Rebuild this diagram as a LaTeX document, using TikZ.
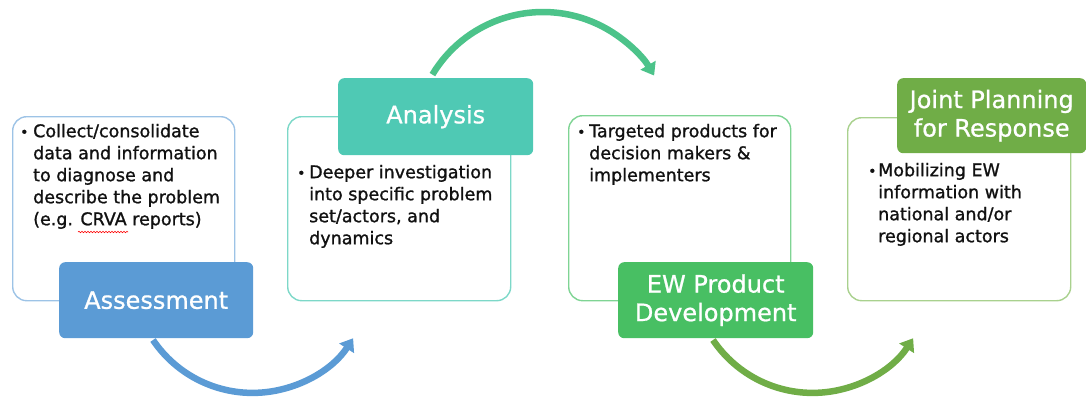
\documentclass[tikz,border=0pt]{standalone}
\usepackage{fontspec}
\setmainfont{DejaVu Sans}
\newfontfamily\bodyfont[FakeBold=1.2]{DejaVu Sans}
\newfontfamily\headfont[FakeBold=0.8]{DejaVu Sans}
\usetikzlibrary{arrows.meta,decorations.pathmorphing}
\definecolor{cAssess}{HTML}{5B9BD5}
\definecolor{cAnalysis}{HTML}{4FC9B4}
\definecolor{cProduct}{HTML}{48BF63}
\definecolor{cJoint}{HTML}{70AD47}
\definecolor{cTopArrow}{HTML}{4CC38A}
\definecolor{oOne}{HTML}{9DC3E6}
\definecolor{oTwo}{HTML}{7DD8C8}
\definecolor{oThree}{HTML}{7FD494}
\definecolor{oFour}{HTML}{A9D18E}
\definecolor{txt}{HTML}{111111}
\begin{document}
\begin{tikzpicture}[x=1pt,y=1pt,
  outline/.style={draw, line width=1.4pt, rounded corners=14pt, anchor=north west, inner sep=0pt},
  header/.style={rounded corners=6pt, text=white, anchor=north west, inner sep=0pt,
    font=\headfont\fontsize{24}{28.5}\selectfont, align=center},
  bodytext/.style={anchor=north west, inner sep=0pt, align=left, text=txt,
    font=\bodyfont\fontsize{17.5}{22}\selectfont},
  bul/.style={anchor=base west, inner sep=0pt, text=txt, font=\bodyfont\fontsize{14}{22}\selectfont},
  arcarrow/.style={line width=6.5pt, -{Triangle[length=12pt,width=17pt]}}
]
\useasboundingbox (0,0) rectangle (1086,400);

% outline boxes
\node[outline, draw=oOne,   minimum width=222pt, minimum height=184pt] (o1) at (12,284) {};
\node[outline, draw=oTwo,   minimum width=223pt, minimum height=184pt] (o2) at (287,284) {};
\node[outline, draw=oThree, minimum width=222pt, minimum height=185pt] (o3) at (568,285) {};
\node[outline, draw=oFour,  minimum width=223pt, minimum height=183pt] (o4) at (847,283) {};

% bullet texts
\node[bul] (b1) at (20,263) {•};
\node[bodytext] (t1) at (33,278.4) {\strut Collect/consolidate\\data and information\\to diagnose and\\describe the problem\\(e.g. CRVA reports)};
\node[bul] (b2) at (297,222) {•};
\node[bodytext] (t2) at (309,237.4) {\strut Deeper investigation\\into specific problem\\set/actors, and\\dynamics};
\node[bul] (b3) at (577,263) {•};
\node[bodytext] (t3) at (589,278.4) {\strut Targeted products for\\decision makers \&\\implementers};
\node[bul] (b4) at (868,224) {•};
\node[bodytext] (t4) at (878,239.4) {\strut Mobilizing EW\\information with\\national and/or\\regional actors};

% spell-check squiggle
\draw[red, line width=0.6pt, decorate, decoration={snake, segment length=3pt, amplitude=0.7pt}] (78,168) -- (128,168);

% header boxes
\node[header, fill=cAssess,   minimum width=194pt, minimum height=76pt] (h1) at (59,138) {Assessment};
\node[header, fill=cAnalysis, minimum width=195pt, minimum height=77pt] (h2) at (338,322) {Analysis};
\node[header, fill=cProduct,  minimum width=195pt, minimum height=76pt] (h3) at (618,138) {EW Product\\Development};
\node[header, fill=cJoint,    minimum width=189pt, minimum height=75pt] (h4) at (897,322) {Joint Planning\\for Response};

% arrows
\coordinate (a1s) at (153,60);
\coordinate (a2s) at (432.4,325.4);
\coordinate (a3s) at (713,60);
\draw[arcarrow, draw=cAssess] (a1s) arc[start angle=-146, end angle=-33, radius=120];
\draw[arcarrow, draw=cTopArrow] (a2s) arc[start angle=149, end angle=30.5, radius=129];
\draw[arcarrow, draw=cJoint] (a3s) arc[start angle=-146, end angle=-33, radius=120];
\end{tikzpicture}
\end{document}
